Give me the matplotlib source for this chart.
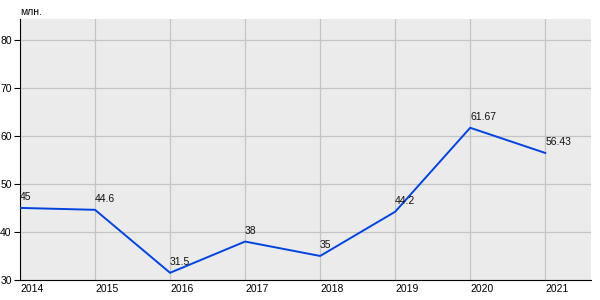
import matplotlib
matplotlib.use("Agg")
import matplotlib.pyplot as plt

years = [2014, 2015, 2016, 2017, 2018, 2019, 2020, 2021]
values = [45, 44.6, 31.5, 38, 35, 44.2, 61.67, 56.43]
labels = ["45", "44.6", "31.5", "38", "35", "44.2", "61.67", "56.43"]
yticks = [30, 40, 50, 60, 70, 80]

plt.rcParams["font.family"] = ["Liberation Sans", "DejaVu Sans"]

fig = plt.figure(figsize=(6, 3), dpi=100)
ax = fig.add_axes([20 / 600, 20 / 300, 571 / 600, 261 / 300])
ax.set_facecolor("#ebebeb")

ax.plot(years, values, color="#0044e0", lw=1.4, zorder=3)
for x, y, t in zip(years, values, labels):
    ax.annotate(t, (x, y), xytext=(0, 4), textcoords="offset points",
                fontsize=7.5, ha="left", va="bottom", color="#111111", zorder=4)

ax.set_xlim(2014, 2021.61)
ax.set_ylim(30, 84.3)
ax.set_xticks(years)
ax.set_xticklabels([str(y) for y in years], ha="left")
ax.set_yticks(yticks)
ax.grid(True, color="#c4c4c4", lw=0.9)
ax.set_axisbelow(True)
ax.tick_params(axis="x", length=0, labelsize=7.5, pad=3)
ax.tick_params(axis="y", length=4, labelsize=7.5, pad=2)
for s in ["top", "right"]:
    ax.spines[s].set_visible(False)
ax.spines["left"].set_color("black")
ax.spines["bottom"].set_color("black")

fig.text(20 / 600, 1 - 12 / 300, "млн.", fontsize=7.5, ha="left", va="center")

fig.savefig("out.png", dpi=100)
